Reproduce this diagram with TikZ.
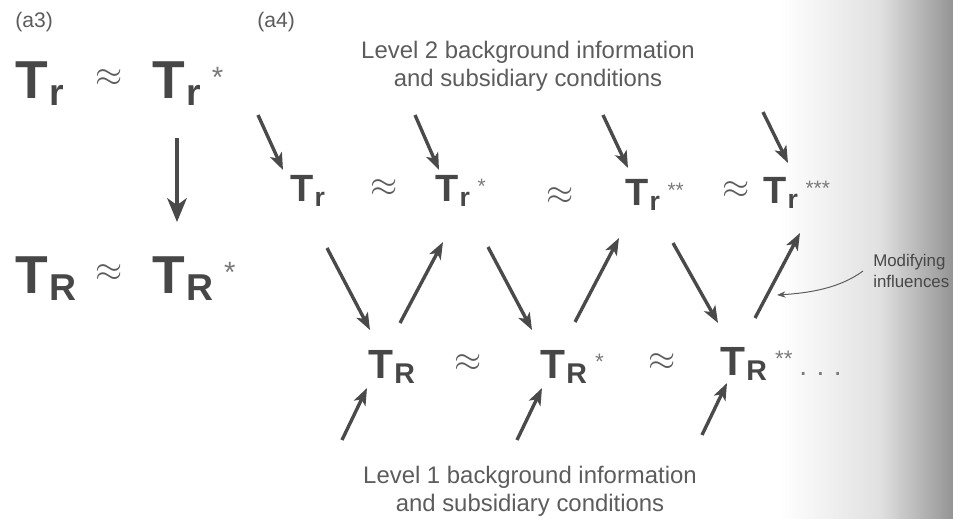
\documentclass[tikz,border=0pt]{standalone}
\usepackage{fontspec}
\setmainfont{Liberation Sans}
\usetikzlibrary{arrows.meta,positioning}
\definecolor{tvInk}{HTML}{474747}
\definecolor{tvText}{HTML}{5C5C5C}
\definecolor{tvStar}{HTML}{7A7A7A}
\definecolor{tvArrow}{HTML}{4A4A4A}
\newcommand{\Tv}[2]{T\kern.03em\raisebox{-.14em}{\scalebox{.7}{#1}}\kern.2em\raisebox{.2em}{\scalebox{.55}{\mdseries\color{tvStar}#2}}}
\tikzset{
  tv/.style={font=\bfseries\fontsize{27}{30}\selectfont, text=tvInk, inner sep=0pt, anchor=base west},
  tvlow/.style={tv, font=\bfseries\fontsize{29}{32}\selectfont},
  tvbig/.style={tv, font=\bfseries\fontsize{38}{42}\selectfont},
  apx/.style={font=\fontsize{26}{30}\selectfont, text=tvText, inner sep=0pt},
  apxbig/.style={apx, font=\fontsize{30}{34}\selectfont},
  tag/.style={font=\fontsize{15}{18}\selectfont, text=tvText, inner sep=0pt, anchor=base west},
  lbl/.style={font=\fontsize{17}{20}\selectfont, text=tvText, inner sep=0pt, align=center, anchor=north},
  note/.style={font=\fontsize{12}{15}\selectfont, text=tvInk, inner sep=0pt, align=left, anchor=north west},
  flow/.style={-{Stealth[length=12pt, width=9pt, inset=3pt]}, draw=tvArrow, line width=2.4pt},
  bigflow/.style={-{Stealth[length=17pt, width=14pt, inset=5pt]}, draw=tvArrow, line width=2.2pt},
  thin/.style={-{Stealth[length=6pt, width=4.5pt]}, draw=tvText, line width=.7pt},
}
\begin{document}
\begin{tikzpicture}[x=0.025cm, y=-0.025cm]
\useasboundingbox (0,0) rectangle (953,519);
\shade[left color=white, right color=black!12] (780,0) rectangle (880,519);
\shade[left color=black!12, right color=black!42] (880,0) rectangle (953,519);
% (a3)
\node[tag] (a3) at (15,28) {(a3)};
\node[tvbig] (r3a) at (15,98) {\Tv{r}{}};
\node[apxbig] (ap3a) at (109,78) {$\approx$};
\node[tvbig] (r3b) at (152,98) {\Tv{r}{*}};
\node[tvbig] (R3a) at (15,293) {\Tv{R}{}};
\node[apxbig] (ap3b) at (109,273) {$\approx$};
\node[tvbig] (R3b) at (152,293) {\Tv{R}{*}};
\draw[bigflow] ([shift={(25,40)}]r3b.base west) -- ([shift={(25,-71)}]R3b.base west);
% (a4): rząd r
\node[tag] (a4) at (257,28) {(a4)};
\node[lbl] (lev2) at (528,41) {Level 2 background information\\and subsidiary conditions};
\node[tv] (r1) at (290,201) {\Tv{r}{}};
\node[apx] (ap1) at (384,188) {$\approx$};
\node[tv] (r2) at (435,201) {\Tv{r}{*}};
\node[apx] (ap2) at (560,196) {$\approx$};
\node[tv] (r3) at (625,205) {\Tv{r}{**}};
\node[apx] (ap3) at (736,190) {$\approx$};
\node[tv] (r4) at (763,203) {\Tv{r}{***}};
% rząd R
\node[tvlow] (R1) at (368,378) {\Tv{R}{}};
\node[apx] (ap4) at (468,363) {$\approx$};
\node[tvlow] (R2) at (540,378) {\Tv{R}{*}};
\node[apx] (ap5) at (662,362) {$\approx$};
\node[tvlow] (R3) at (720,375) {\Tv{R}{**}\,{\mdseries\fontsize{20}{22}\selectfont\color{tvStar}.\,\,.\,\,.}};
\node[lbl] (lev1) at (530,466) {Level 1 background information\\and subsidiary conditions};
\node[note] (mod) at (873,254) {Modifying\\influences};
% wejścia z góry i z dołu
\coordinate (in1) at (258,115);
\coordinate (in2) at (415,115);
\coordinate (in3) at (603,115);
\coordinate (in4) at (763,112);
\coordinate (in5) at (342,440);
\coordinate (in6) at (517,440);
\coordinate (in7) at (702,435);
\draw[flow] (in1) -- ([shift={(-7,-31)}]r1.base west);
\draw[flow] (in2) -- ([shift={(4,-31)}]r2.base west);
\draw[flow] (in3) -- ([shift={(3,-37)}]r3.base west);
\draw[flow] (in4) -- ([shift={(25,-40)}]r4.base west);
\draw[flow] (in5) -- ([shift={(-1,10)}]R1.base west);
\draw[flow] (in6) -- ([shift={(2,10)}]R2.base west);
\draw[flow] (in7) -- ([shift={(7,8)}]R3.base west);
% zygzak
\draw[flow] ([shift={(37,47)}]r1.base west) -- ([shift={(2,-48)}]R1.base west);
\draw[flow] ([shift={(32,-55)}]R1.base west) -- ([shift={(8,41)}]r2.base west);
\draw[flow] ([shift={(53,46)}]r2.base west) -- ([shift={(-8,-48)}]R2.base west);
\draw[flow] ([shift={(35,-56)}]R2.base west) -- ([shift={(-6,33)}]r3.base west);
\draw[flow] ([shift={(48,38)}]r3.base west) -- ([shift={(-2,-52)}]R3.base west);
\draw[flow] ([shift={(35,-57)}]R3.base west) -- ([shift={(37,30)}]r4.base west);
\coordinate (hit) at ([shift={(57,-80)}]R3.base west);
\draw[thin] ([shift={(-10,0)}]mod.west) .. controls (840,288) and (810,293) .. (hit);
\end{tikzpicture}
\end{document}
